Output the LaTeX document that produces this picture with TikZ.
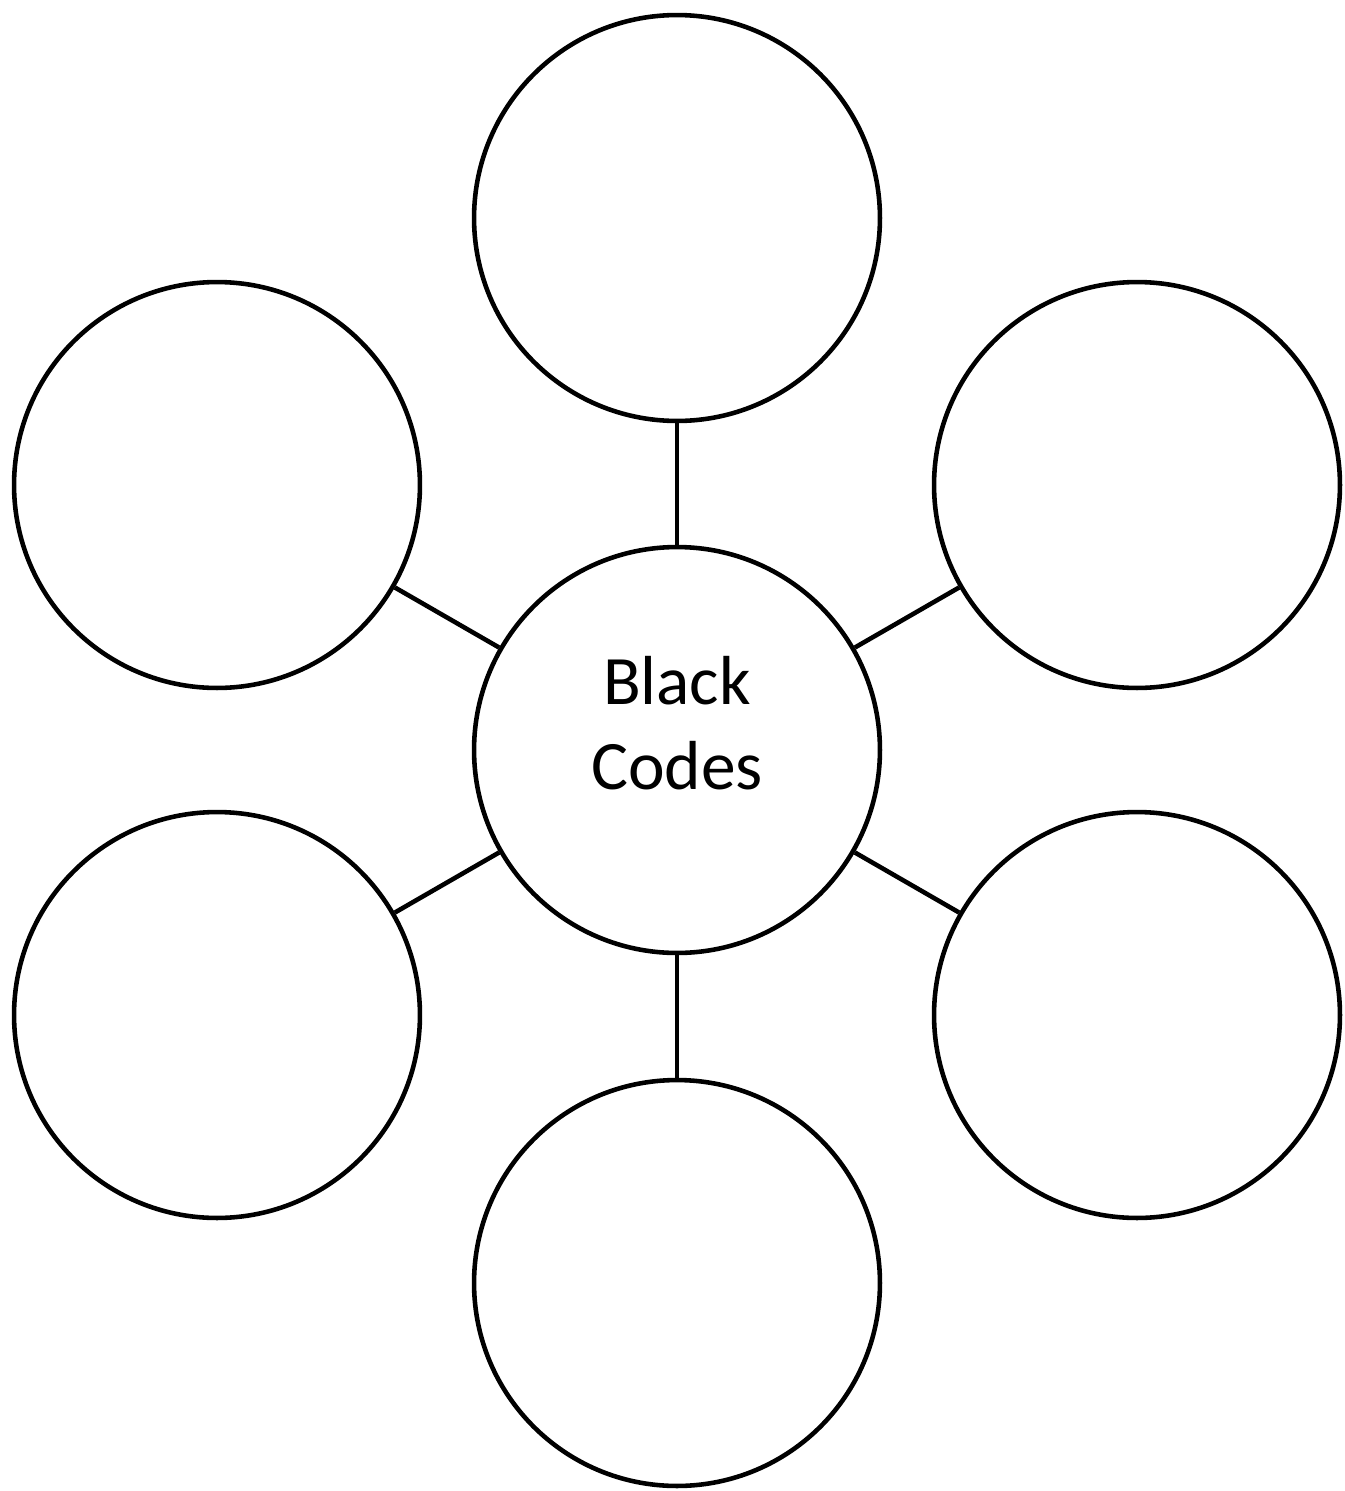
\documentclass[tikz,border=0pt]{standalone}
\usepackage{fontspec}
\setmainfont{Carlito}
\usetikzlibrary{positioning}

\begin{document}
\begin{tikzpicture}[x=0.02cm, y=-0.02cm,
    bubble/.style={draw=black, circle, line width=2.6pt, fill=white,
      minimum size=8.12cm, inner sep=0pt},
    hub/.style={bubble, align=center, text depth=31pt,
      font=\fontsize{39.5}{48}\selectfont},
    link/.style={line width=2.6pt, draw=black}]
\useasboundingbox (0,0) rectangle (1345,1491);
\node[hub] (codes) at (677,750) {Black\\Codes};
\node[bubble] (north) at (677,218) {};
\node[bubble] (south) at (677,1283) {};
\node[bubble] (nw) at (217,485) {};
\node[bubble] (ne) at (1137,485) {};
\node[bubble] (sw) at (217,1015) {};
\node[bubble] (se) at (1137,1015) {};
\foreach \spoke in {north,ne,se,south,sw,nw}
  \draw[link] (codes) -- (\spoke);
\end{tikzpicture}
\end{document}
